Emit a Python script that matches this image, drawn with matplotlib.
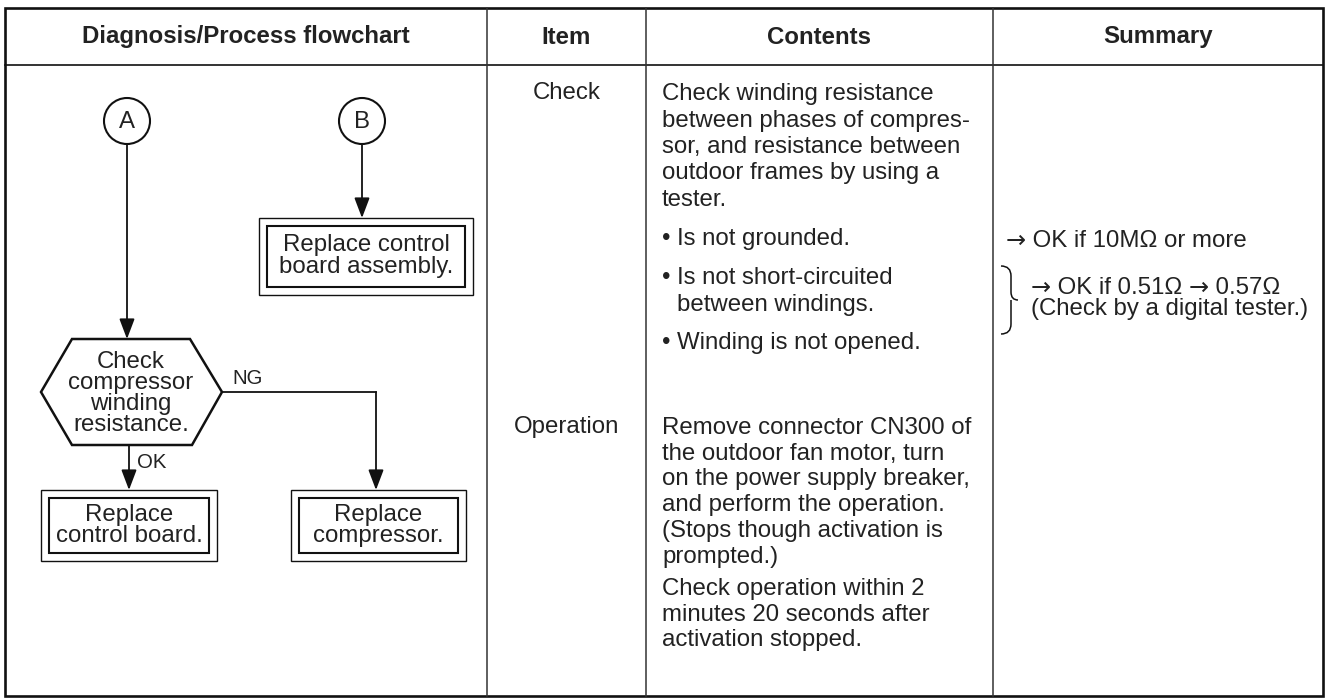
import numpy as np
import matplotlib.pyplot as plt
from matplotlib.patches import Polygon, Rectangle, Circle, PathPatch
from matplotlib.path import Path

plt.rcParams['font.family'] = ['Liberation Sans', 'DejaVu Sans']

# table text
headers = ["Diagnosis/Process flowchart", "Item", "Contents", "Summary"]
items = ["Check", "Operation"]
check_para = ["Check winding resistance",
              "between phases of compres-",
              "sor, and resistance between",
              "outdoor frames by using a",
              "tester."]
check_bullets = [["Is not grounded."],
                 ["Is not short-circuited", "between windings."],
                 ["Winding is not opened."]]
oper_para = ["Remove connector CN300 of",
             "the outdoor fan motor, turn",
             "on the power supply breaker,",
             "and perform the operation.",
             "(Stops though activation is",
             "prompted.)"]
oper_para2 = ["Check operation within 2",
              "minutes 20 seconds after",
              "activation stopped."]
summary_1 = "\u2192 OK if 10M\u03a9 or more"
summary_2 = ["\u2192 OK if 0.51\u03a9 \u2192 0.57\u03a9",
             "(Check by a digital tester.)"]

# flowchart text
connectors = ["A", "B"]
decision = ["Check", "compressor", "winding", "resistance."]
box_b = ["Replace control", "board assembly."]
box_ok = ["Replace", "control board."]
box_ng = ["Replace", "compressor."]
branch = ["OK", "NG"]

fig = plt.figure(figsize=(13.27, 7.0), dpi=100)
ax = fig.add_axes([0, 0, 1, 1])
ax.set_xlim(0, 1327)
ax.set_ylim(700, 0)
ax.axis('off')
rend = fig.canvas.get_renderer()

tc = '#222222'
lc = '#111111'
fs = 17.3

# ---- table grid
L, R, T, B = 5, 1323, 8, 696
cols = [L, 487, 646, 993, R]
ax.add_patch(Rectangle((L, T), R - L, B - T, fill=False, lw=1.9, ec=lc))
ax.plot([L, R], [65, 65], color=lc, lw=1.2)
for x in cols[1:-1]:
    ax.plot([x, x], [T, B], color='#333333', lw=1.1)
for i, h in enumerate(headers):
    ax.text((cols[i] + cols[i + 1]) / 2, 37, h, ha='center', va='center',
            fontsize=fs, fontweight='bold', color=tc)


def put_lines(x, y0, lines, step, **kw):
    for k, s in enumerate(lines):
        ax.text(x, y0 + k * step, s, va='center', fontsize=kw.get('size', fs),
                ha=kw.get('ha', 'left'), color=tc)


def put_mixed(x, y, s):
    # arrows drawn in DejaVu (mid-height thin arrow), rest in Liberation
    parts = []
    buf = ''
    for ch in s:
        if ch == '\u2192':
            if buf:
                parts.append((buf, 'Liberation Sans'))
            parts.append((ch, 'DejaVu Sans'))
            buf = ''
        else:
            buf += ch
    if buf:
        parts.append((buf, 'Liberation Sans'))
    inv = ax.transData.inverted()
    for txt, fam in parts:
        t = ax.text(x, y, txt, va='center', fontsize=fs, color=tc, family=fam)
        bb = t.get_window_extent(renderer=rend)
        x += inv.transform((bb.x1, 0))[0] - inv.transform((bb.x0, 0))[0]


# item column
item_x = (cols[1] + cols[2]) / 2
ax.text(item_x, 93, items[0], ha='center', va='center', fontsize=fs, color=tc)
ax.text(item_x, 427, items[1], ha='center', va='center', fontsize=fs, color=tc)

# contents column
cx = 662
put_lines(cx, 94, check_para, 26.5)
by = [239, 278, 343]
for y, bl in zip(by, check_bullets):
    ax.text(cx, y, "\u2022", va='center', fontsize=fs, color=tc)
    put_lines(cx + 15, y, bl, 26.5)
put_lines(cx, 428, oper_para, 25.7)
put_lines(cx, 589, oper_para2, 25.7)

# summary column
put_mixed(1006, 241, summary_1)
put_mixed(1031, 288, summary_2[0])
ax.text(1031, 309.5, summary_2[1], va='center', fontsize=fs, color=tc)
bx0, bx1, bx2 = 1001, 1011, 1018
yt, ym, yb = 266, 300, 334
verts = [(bx0, yt), (bx1, yt), (bx1, yt + 10), (bx1, ym - 8), (bx1, ym), (bx2, ym),
         (bx1, ym), (bx1, ym + 8), (bx1, yb - 10), (bx1, yb), (bx0, yb)]
codes = [Path.MOVETO, Path.CURVE3, Path.CURVE3, Path.LINETO, Path.CURVE3, Path.CURVE3,
         Path.MOVETO, Path.LINETO, Path.LINETO, Path.CURVE3, Path.CURVE3]
ax.add_patch(PathPatch(Path(verts, codes), fill=False, lw=1.1, ec=lc))

# ---- flowchart
akw = dict(arrowstyle='-|>,head_length=0.95,head_width=0.36', lw=1.3, color=lc,
           shrinkA=0, shrinkB=0, mutation_scale=13)


def arrow(x0, y0, x1, y1):
    ax.annotate('', xy=(x1, y1), xytext=(x0, y0), arrowprops=akw)


def dbl_box(x0, y0, x1, y1, lines, step):
    ax.add_patch(Rectangle((x0, y0), x1 - x0, y1 - y0, fill=False, lw=1.0, ec=lc))
    ax.add_patch(Rectangle((x0 + 8, y0 + 8), x1 - x0 - 16, y1 - y0 - 16, fill=False,
                           lw=1.5, ec=lc))
    ym = (y0 + y1) / 2
    n = len(lines)
    for k, s in enumerate(lines):
        ax.text((x0 + x1) / 2, ym + (k - (n - 1) / 2) * step, s, ha='center',
                va='center', fontsize=fs, color=tc)


ax_c, bx_c, cy, r = 127, 362, 121, 23
for x, lab in zip([ax_c, bx_c], connectors):
    ax.add_patch(Circle((x, cy), r, fc='white', ec=lc, lw=1.5))
    ax.text(x, cy + 1, lab, ha='center', va='center', fontsize=fs, color=tc)

arrow(ax_c, cy + r, ax_c, 339)
arrow(bx_c, cy + r, bx_c, 218)
dbl_box(259, 218, 473, 295, box_b, 22)

hexv = [(72, 339), (190, 339), (222, 392), (192, 445), (72, 445), (41, 392)]
ax.add_patch(Polygon(hexv, closed=True, fill=False, ec=lc, lw=1.8))
put_lines(131, 362, decision, 21, ha='center')

arrow(129, 445, 129, 490)
ax.text(137, 462, branch[0], va='center', fontsize=fs * 0.85, color=tc)
ax.plot([222, 376], [392, 392], color=lc, lw=1.3)
arrow(376, 392, 376, 490)
ax.text(232, 379, branch[1], va='center', fontsize=fs * 0.85, color=tc)

dbl_box(41, 490, 217, 561, box_ok, 21)
dbl_box(291, 490, 466, 561, box_ng, 21)

fig.savefig('out.png', dpi=100, facecolor='white')
